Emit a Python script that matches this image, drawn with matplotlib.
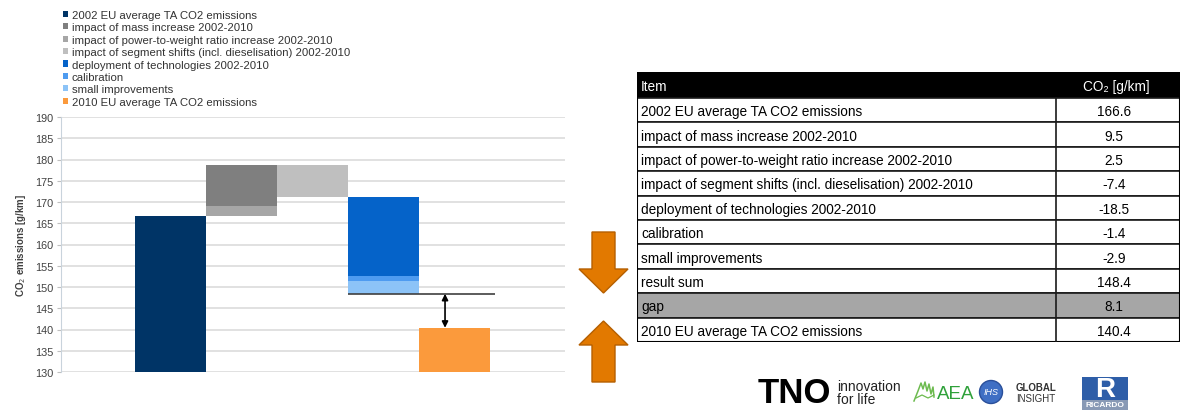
import matplotlib
matplotlib.use('Agg')
import matplotlib.pyplot as plt
from matplotlib.patches import Patch, Rectangle, Polygon, Circle

plt.rcParams['font.family'] = ['Liberation Sans', 'DejaVu Sans']

# data
items = ['2002 EU average TA CO2 emissions',
         'impact of mass increase 2002-2010',
         'impact of power-to-weight ratio increase 2002-2010',
         'impact of segment shifts (incl. dieselisation) 2002-2010',
         'deployment of technologies 2002-2010',
         'calibration',
         'small improvements',
         'result sum',
         'gap',
         '2010 EU average TA CO2 emissions']
values = [166.6, 9.5, 2.5, -7.4, -18.5, -1.4, -2.9, 148.4, 8.1, 140.4]
value_labels = ['166.6', '9.5', '2.5', '-7.4', '-18.5', '-1.4', '-2.9', '148.4', '8.1', '140.4']
legend_labels = items[:7] + [items[9]]
bar_colors = ['#003466', '#7f7f7f', '#a6a6a6', '#bfbfbf', '#0563c9', '#4e9bf0', '#8cc3f7', '#fb9a3c']
yticks = list(range(130, 191, 5))

W, H = 1182, 414
fig = plt.figure(figsize=(W / 100, H / 100), dpi=100)

# ---- waterfall chart
ax = fig.add_axes([61 / W, 1 - 373 / H, (565 - 61) / W, (373 - 118) / H])
base, mass, ptw, seg, tech, cal, small = values[:7]
final = values[9]
result = values[7]

ax.bar(1, base - 130, bottom=130, width=1.0, color=bar_colors[0], zorder=3)
ax.bar(2, ptw, bottom=base, width=1.0, color=bar_colors[2], zorder=3)
ax.bar(2, mass, bottom=base + ptw, width=1.0, color=bar_colors[1], zorder=3)
top = base + ptw + mass
ax.bar(3, -seg, bottom=top + seg, width=1.0, color=bar_colors[3], zorder=3)
top = top + seg
ax.bar(4, -tech, bottom=top + tech, width=1.0, color=bar_colors[4], zorder=3)
top = top + tech
ax.bar(4, -cal, bottom=top + cal, width=1.0, color=bar_colors[5], zorder=3)
top = top + cal
ax.bar(4, -small, bottom=top + small, width=1.0, color=bar_colors[6], zorder=3)
ax.bar(5, final - 130, bottom=130, width=1.0, color=bar_colors[7], zorder=3)

ax.hlines(result, 3.5, 5.57, color='#404040', lw=1.2, zorder=4)
ax.annotate('', xy=(4.87, final), xytext=(4.87, result),
            arrowprops=dict(arrowstyle='<|-|>', color='black', lw=1.2,
                            mutation_scale=9, shrinkA=0, shrinkB=0), zorder=5)

ax.set_xlim(-0.54, 6.56)
ax.set_ylim(130, 190)
ax.set_yticks(yticks)
ax.set_xticks([])
ax.grid(axis='y', color='#d9d9d9', lw=1.1, zorder=0)
for s in ['top', 'right', 'bottom']:
    ax.spines[s].set_visible(False)
ax.spines['left'].set_color('#c9d3dc')
ax.tick_params(axis='y', labelsize=7.8, labelcolor='#404040', color='#bfbfbf', length=3, pad=2.5)
ax.set_ylabel('CO$_2$ emissions [g/km]', fontsize=7, fontweight='bold', color='#404040', labelpad=5)

handles = [Patch(facecolor=c, edgecolor='none') for c in bar_colors]
fig.legend(handles, legend_labels, loc='upper left', bbox_to_anchor=(63 / W, 1 - 11 / H),
           frameon=False, fontsize=8.2, handlelength=0.45, handleheight=0.45,
           handletextpad=0.3, labelspacing=0.21, borderpad=0, borderaxespad=0,
           labelcolor='#333333')

# ---- table
tx0, tx1, ty0, ty1 = 637, 1180, 73, 343
tax = fig.add_axes([tx0 / W, 1 - ty1 / H, (tx1 - tx0) / W, (ty1 - ty0) / H])
tw, th = tx1 - tx0, ty1 - ty0
tax.set_xlim(0, tw)
tax.set_ylim(th, 0)
tax.axis('off')
div = 1056 - tx0
hh = 26
rh = (th - hh) / len(items)
tfs = 9.8
tax.add_patch(Rectangle((0, 0), tw, hh, facecolor='black', edgecolor='black'))
tax.text(4, hh / 2 + 1, 'Item', color='white', fontsize=tfs, va='center', ha='left')
tax.text((div + tw) / 2 - 2, hh / 2 + 1, 'CO\u2082 [g/km]', color='white', fontsize=tfs,
         va='center', ha='center')
for i, (name, lab) in enumerate(zip(items, value_labels)):
    y = hh + i * rh
    fc = '#a6a6a6' if name == 'gap' else 'white'
    tax.add_patch(Rectangle((0, y), tw, rh, facecolor=fc, edgecolor='#1a1a1a', lw=1.2))
    tax.text(4, y + rh / 2 + 1, name, fontsize=tfs, va='center', ha='left', color='black')
    tax.text((div + tw) / 2 - 4, y + rh / 2 + 1, lab, fontsize=tfs, va='center', ha='center', color='black')
tax.plot([div, div], [hh, th], color='#1a1a1a', lw=1.2)
tax.add_patch(Rectangle((0, 0), tw, th, facecolor='none', edgecolor='black', lw=1.5))

# ---- overlay: arrows and logos (pixel coordinates)
ov = fig.add_axes([0, 0, 1, 1])
ov.set_xlim(0, W)
ov.set_ylim(H, 0)
ov.axis('off')
orange, edge = '#e27900', '#b55f00'
ov.add_patch(Polygon([(592, 233), (615, 233), (615, 270), (628, 270), (603.5, 294),
                      (579, 270), (592, 270)], closed=True, facecolor=orange, edgecolor=edge, lw=1))
ov.add_patch(Polygon([(603.5, 322), (628, 346), (615, 346), (615, 383), (592, 383),
                      (592, 346), (579, 346)], closed=True, facecolor=orange, edgecolor=edge, lw=1))

ov.text(758, 394, 'TNO', fontsize=25, fontweight='bold', color='black', va='center', ha='left')
ov.text(837, 387, 'innovation', fontsize=10, color='#222222', va='center', ha='left')
ov.text(837, 400, 'for life', fontsize=10, color='#222222', va='center', ha='left')
# AEA swirl mark
ov.plot([914, 918, 921, 923, 925, 927, 929, 931, 933, 934],
        [402, 392, 384, 390, 383, 392, 385, 395, 388, 398], color='#6dbb4f', lw=1.1)
ov.plot([916, 922, 928, 934], [399, 396, 399, 396], color='#6dbb4f', lw=0.9)
ov.text(937, 395, 'AEA', fontsize=13.5, color='#2fa13a', va='center', ha='left')
ov.add_patch(Circle((991, 393), 11.5, facecolor='#3f6fc4', edgecolor='#2a4f9a', lw=1))
ov.text(991, 393, 'IHS', fontsize=6.5, color='white', va='center', ha='center', style='italic')
ov.text(1016, 388, 'GLOBAL', fontsize=7, fontweight='bold', color='#333333', va='center', ha='left')
ov.text(1016, 399, 'INSIGHT', fontsize=7, color='#333333', va='center', ha='left')
ov.add_patch(Rectangle((1082, 378), 46, 23, facecolor='#2e5ea8', edgecolor='none'))
ov.add_patch(Rectangle((1082, 401), 46, 10, facecolor='#8899b5', edgecolor='none'))
ov.text(1105, 390, 'R', fontsize=20, fontweight='bold', color='white', va='center', ha='center')
ov.text(1105, 406, 'RICARDO', fontsize=6, fontweight='bold', color='white', va='center', ha='center')

fig.savefig('out.png', dpi=100)
